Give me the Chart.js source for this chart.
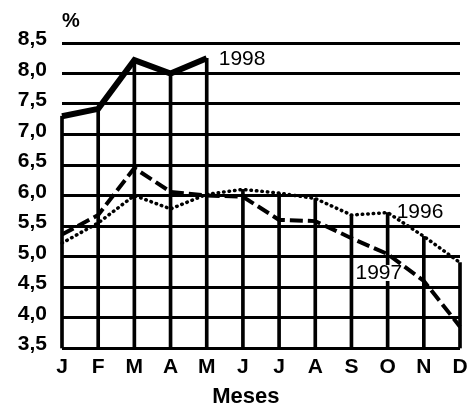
<!DOCTYPE html>
<html><head><meta charset="utf-8">
<script src="https://cdn.jsdelivr.net/npm/chart.js@4/dist/chart.umd.min.js"></script>
<style>html,body{margin:0;padding:0;background:#fff}</style>
</head><body>
<canvas id="c" width="467" height="406"></canvas>
<script>
const months = ['J','F','M','A','M','J','J','A','S','O','N','D'];
const s1998 = [7.3, 7.42, 8.22, 8.0, 8.25, null, null, null, null, null, null, null];
const s1997 = [5.36, 5.68, 6.45, 6.06, 6.0, 5.98, 5.6, 5.58, 5.3, 5.04, 4.6, 3.85];
const s1996 = [5.22, 5.55, 6.0, 5.78, 6.02, 6.1, 6.04, 5.95, 5.68, 5.72, 5.33, 4.9];
const yMin = 3.5, yMax = 8.5, yStep = 0.5;
const unitLabel = '%';
const axisTitle = 'Meses';
const seriesNames = ['1998', '1997', '1996'];

// vertical drop lines: from the axis floor up to the highest series value at each month
const dropTops = months.map((m, i) => Math.max(...[s1998[i], s1997[i], s1996[i]].filter(v => v !== null)));

const FONT = "'Liberation Sans', Arial, Helvetica, sans-serif";

const labelsPlugin = {
  id: 'labels',
  afterDatasetsDraw(chart) {
    const ctx = chart.ctx, x = chart.scales.x, y = chart.scales.y;
    ctx.save();
    ctx.fillStyle = '#000';
    ctx.textBaseline = 'middle';
    ctx.textAlign = 'left';
    ctx.font = "bold 20px " + FONT;
    ctx.fillText(unitLabel, chart.chartArea.left, 21);

    ctx.textAlign = 'center';
    ctx.font = "bold 22px " + FONT;
    ctx.fillText(axisTitle, x.getPixelForValue(5) + 3, 397);

    ctx.textAlign = 'left';
    ctx.font = "21px " + FONT;
    // 1998
    ctx.fillText(seriesNames[0], x.getPixelForValue(4) + 12, y.getPixelForValue(s1998[4]) + 1);
    // 1996
    ctx.fillText(seriesNames[2], x.getPixelForValue(9) + 9, y.getPixelForValue(s1996[9]));
    // 1997 with white background
    const tx = x.getPixelForValue(8) + 4, ty = y.getPixelForValue(4.73);
    const w = ctx.measureText(seriesNames[1]).width;
    ctx.fillStyle = '#fff';
    ctx.fillRect(tx, ty - 8, w, 16);
    ctx.fillStyle = '#000';
    ctx.fillText(seriesNames[1], tx, ty);
    ctx.restore();
  }
};

new Chart(document.getElementById('c'), {
  data: {
    labels: months,
    datasets: [
      { type: 'line', label: seriesNames[0], data: s1998, borderColor: '#000', borderWidth: 6,
        pointRadius: 0, tension: 0, order: 0, borderJoinStyle: 'miter', spanGaps: false },
      { type: 'line', label: seriesNames[1], data: s1997, borderColor: '#000', borderWidth: 4,
        borderDash: [13, 5], pointRadius: 0, tension: 0, order: 1 },
      { type: 'line', label: seriesNames[2], data: s1996, borderColor: '#000', borderWidth: 3.5,
        borderDash: [0.5, 5], borderCapStyle: 'round', pointRadius: 0, tension: 0, order: 2 },
      { type: 'bar', label: 'drop', data: dropTops.map(v => [yMin, v]), backgroundColor: '#000',
        barThickness: 3, order: 10, clip: false }
    ]
  },
  options: {
    responsive: false,
    animation: false,
    devicePixelRatio: 1,
    layout: { padding: { left: 0, right: 7, top: 43, bottom: 0 } },
    plugins: { legend: { display: false }, tooltip: { enabled: false } },
    scales: {
      x: {
        type: 'category',
        offset: false,
        grid: { display: false, drawTicks: false },
        border: { display: false },
        ticks: { color: '#000', font: { family: FONT, size: 21, weight: 'bold' }, padding: 7, maxRotation: 0, autoSkip: false },
        afterFit(s) { s.height = 58; s.paddingLeft = 0; s.paddingRight = 0; }
      },
      y: {
        min: yMin, max: yMax,
        grid: { color: '#000', lineWidth: 3, drawTicks: false },
        border: { display: false },
        ticks: { stepSize: yStep, color: '#000', font: { family: FONT, size: 21, weight: 'bold', lineHeight: 0.35 }, padding: 15,
          callback: v => [v.toFixed(1).replace('.', ','), ''] },
        afterFit(s) { s.width = 62; }
      }
    }
  },
  plugins: [labelsPlugin]
});
</script>
</body></html>
